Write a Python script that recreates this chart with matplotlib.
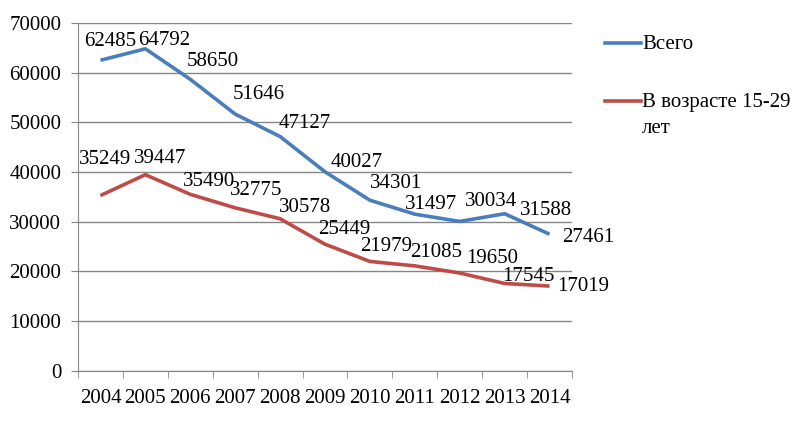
import numpy as np
import matplotlib
matplotlib.use('Agg')
import matplotlib.pyplot as plt
from matplotlib.lines import Line2D

# данные
years = ['2004', '2005', '2006', '2007', '2008', '2009', '2010', '2011', '2012', '2013', '2014']
total = [62485, 64792, 58650, 51646, 47127, 40027, 34301, 31497, 30034, 31588, 27461]
youth = [35249, 39447, 35490, 32775, 30578, 25449, 21979, 21085, 19650, 17545, 17019]

# смещения подписей (пиксели)
total_off = [(10, 19), (19, 8), (22, 18), (24, 20), (25, 13), (32, 9),
             (26, 17), (16, 10), (31, 20), (41, 3), (39, -3)]
youth_off = [(5, 36), (15, 16), (19, 13), (21, 17), (25, 11), (19, 15),
             (16, 15), (21, 13), (32, 15), (24, 7), (34, 0)]

blue = '#4A7EBB'
red = '#BE4B48'

plt.rcParams['font.family'] = ['Liberation Serif', 'DejaVu Serif']

fig = plt.figure(figsize=(8, 4.25), dpi=100)
ax = fig.add_axes([0.0975, 0.128, 0.6175, 0.818])

x = np.arange(len(years))
ax.plot(x, total, color=blue, lw=2.6, solid_capstyle='butt')
ax.plot(x, youth, color=red, lw=2.6, solid_capstyle='butt')

for xi, v, (dx, dy) in zip(x, total, total_off):
    ax.annotate(str(v), (xi, v), xytext=(dx, dy), textcoords='offset pixels',
                ha='center', va='center', fontsize=15)
for xi, v, (dx, dy) in zip(x, youth, youth_off):
    ax.annotate(str(v), (xi, v), xytext=(dx, dy), textcoords='offset pixels',
                ha='center', va='center', fontsize=15)

ax.set_xlim(-0.5, len(years) - 0.5)
ax.set_ylim(0, 70000)
ax.set_yticks(range(0, 70001, 10000))
ax.tick_params(axis='y', labelsize=15, length=5, color='#868686', pad=7)
ax.yaxis.grid(True, color='#868686', lw=1)
ax.set_axisbelow(True)

ax.set_xticks(x)
ax.set_xticklabels(years)
ax.set_xticks(np.arange(-0.5, len(years)), minor=True)
ax.tick_params(axis='x', which='major', length=0, labelsize=15, pad=13)
ax.tick_params(axis='x', which='minor', length=5, color='#868686')

for s in ['top', 'right']:
    ax.spines[s].set_visible(False)
for s in ['left', 'bottom']:
    ax.spines[s].set_color('#868686')

# легенда справа
def fx(px):
    return px / 800

def fy(py):
    return 1 - py / 425

fig.add_artist(Line2D([fx(605), fx(641)], [fy(43), fy(43)], color=blue, lw=2.6,
                      transform=fig.transFigure))
fig.add_artist(Line2D([fx(605), fx(641)], [fy(101), fy(101)], color=red, lw=2.6,
                      transform=fig.transFigure))
fig.text(fx(642), fy(49), 'Всего', fontsize=15, va='baseline', ha='left')
fig.text(fx(642), fy(107), 'В возрасте 15-29', fontsize=15, va='baseline', ha='left')
fig.text(fx(642), fy(133), 'лет', fontsize=15, va='baseline', ha='left')

fig.savefig('out.png', dpi=100)
